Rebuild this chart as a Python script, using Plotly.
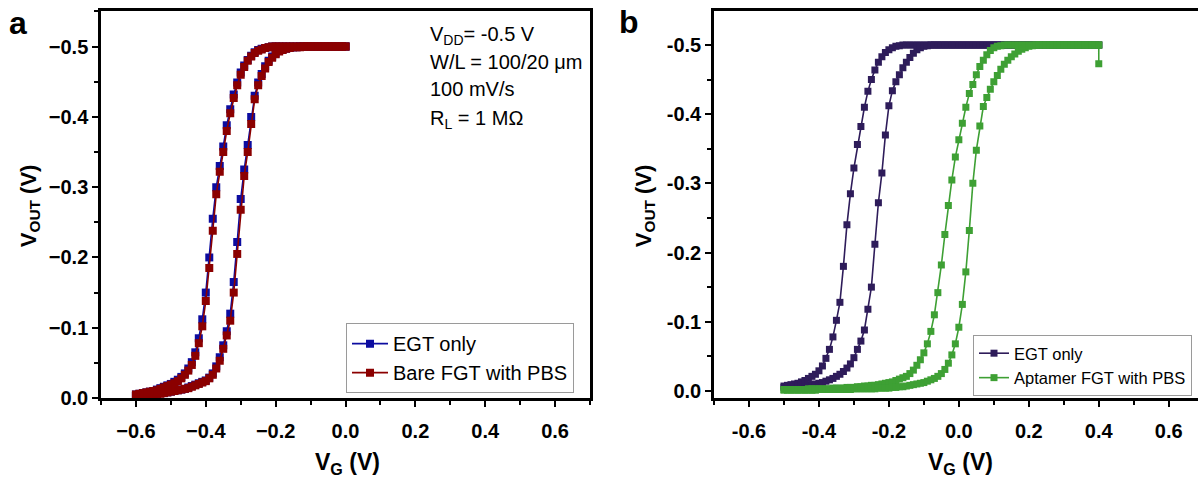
import plotly.graph_objects as go

FONT = "Liberation Sans, Arial, sans-serif"
W, H = 1198, 482

# ---------------- gate-voltage sweep grids (V) ----------------
VG_A = [-0.60, -0.59, -0.58, -0.57, -0.56, -0.55, -0.54, -0.53, -0.52, -0.51,
        -0.50, -0.49, -0.48, -0.47, -0.46, -0.45, -0.44, -0.43, -0.42, -0.41,
        -0.40, -0.39, -0.38, -0.37, -0.36, -0.35, -0.34, -0.33, -0.32, -0.31,
        -0.30, -0.29, -0.28, -0.27, -0.26, -0.25, -0.24, -0.23, -0.22, -0.21,
        -0.20, -0.19, -0.18, -0.17, -0.16, -0.15, -0.14, -0.13, -0.12, -0.11,
        -0.10, -0.09, -0.08, -0.07, -0.06, -0.05, -0.04, -0.03, -0.02, -0.01,
        0.00]

VG_B = [-0.50, -0.49, -0.48, -0.47, -0.46, -0.45, -0.44, -0.43, -0.42, -0.41,
        -0.40, -0.39, -0.38, -0.37, -0.36, -0.35, -0.34, -0.33, -0.32, -0.31,
        -0.30, -0.29, -0.28, -0.27, -0.26, -0.25, -0.24, -0.23, -0.22, -0.21,
        -0.20, -0.19, -0.18, -0.17, -0.16, -0.15, -0.14, -0.13, -0.12, -0.11,
        -0.10, -0.09, -0.08, -0.07, -0.06, -0.05, -0.04, -0.03, -0.02, -0.01,
        0.00, 0.01, 0.02, 0.03, 0.04, 0.05, 0.06, 0.07, 0.08, 0.09,
        0.10, 0.11, 0.12, 0.13, 0.14, 0.15, 0.16, 0.17, 0.18, 0.19,
        0.20, 0.21, 0.22, 0.23, 0.24, 0.25, 0.26, 0.27, 0.28, 0.29,
        0.30, 0.31, 0.32, 0.33, 0.34, 0.35, 0.36, 0.37, 0.38, 0.39,
        0.40]

# ---------------- panel a: V_OUT (V), both sweep directions on VG_A ----------------
EGT_A_UP = [-0.003, -0.003, -0.004, -0.004, -0.005, -0.005, -0.006, -0.007, -0.007, -0.008,
            -0.009, -0.010, -0.011, -0.012, -0.013, -0.015, -0.017, -0.019, -0.021, -0.023,
            -0.025, -0.029, -0.035, -0.045, -0.058, -0.075, -0.095, -0.120, -0.165, -0.222,
            -0.283, -0.325, -0.360, -0.400, -0.430, -0.449, -0.461, -0.472, -0.480, -0.486,
            -0.490, -0.494, -0.496, -0.497, -0.498, -0.499, -0.499, -0.500, -0.500, -0.500,
            -0.500, -0.500, -0.500, -0.500, -0.500, -0.500, -0.500, -0.500, -0.500, -0.500,
            -0.500]
EGT_A_DOWN = [-0.005, -0.006, -0.007, -0.008, -0.009, -0.010, -0.012, -0.014, -0.016, -0.018,
              -0.020, -0.023, -0.026, -0.030, -0.035, -0.042, -0.051, -0.065, -0.085, -0.112,
              -0.150, -0.200, -0.255, -0.300, -0.330, -0.358, -0.388, -0.411, -0.432, -0.449,
              -0.463, -0.473, -0.481, -0.487, -0.492, -0.495, -0.497, -0.498, -0.499, -0.500,
              -0.500, -0.500, -0.500, -0.500, -0.500, -0.500, -0.500, -0.500, -0.500, -0.500,
              -0.500, -0.500, -0.500, -0.500, -0.500, -0.500, -0.500, -0.500, -0.500, -0.500,
              -0.500]
BARE_A_UP = [-0.003, -0.003, -0.004, -0.004, -0.005, -0.005, -0.006, -0.006, -0.007, -0.008,
             -0.009, -0.010, -0.011, -0.012, -0.013, -0.014, -0.016, -0.018, -0.020, -0.022,
             -0.024, -0.028, -0.033, -0.042, -0.053, -0.070, -0.089, -0.110, -0.150, -0.205,
             -0.268, -0.316, -0.350, -0.390, -0.425, -0.445, -0.458, -0.469, -0.478, -0.484,
             -0.489, -0.493, -0.495, -0.497, -0.498, -0.499, -0.499, -0.499, -0.500, -0.500,
             -0.500, -0.500, -0.500, -0.500, -0.500, -0.500, -0.500, -0.500, -0.500, -0.500,
             -0.500]
BARE_A_DOWN = [-0.005, -0.006, -0.007, -0.008, -0.009, -0.010, -0.011, -0.013, -0.015, -0.017,
               -0.019, -0.021, -0.024, -0.028, -0.033, -0.039, -0.047, -0.060, -0.078, -0.102,
               -0.138, -0.185, -0.238, -0.290, -0.322, -0.350, -0.380, -0.405, -0.427, -0.445,
               -0.460, -0.471, -0.480, -0.486, -0.491, -0.494, -0.496, -0.498, -0.499, -0.500,
               -0.500, -0.500, -0.500, -0.500, -0.500, -0.500, -0.500, -0.500, -0.500, -0.500,
               -0.500, -0.500, -0.500, -0.500, -0.500, -0.500, -0.500, -0.500, -0.500, -0.500,
               -0.500]

# ---------------- panel b: V_OUT (V), both sweep directions on VG_B ----------------
EGT_B_UP = [-0.005, -0.005, -0.005, -0.006, -0.006, -0.007, -0.007, -0.008, -0.009, -0.010,
            -0.011, -0.012, -0.014, -0.016, -0.018, -0.021, -0.024, -0.028, -0.033, -0.039,
            -0.048, -0.060, -0.072, -0.088, -0.118, -0.150, -0.212, -0.272, -0.315, -0.370,
            -0.412, -0.434, -0.447, -0.457, -0.467, -0.475, -0.482, -0.488, -0.493, -0.496,
            -0.498, -0.499, -0.500, -0.500, -0.500, -0.500, -0.500, -0.500, -0.500, -0.500,
            -0.500, -0.500, -0.500, -0.500, -0.500, -0.500, -0.500, -0.500, -0.500, -0.500,
            -0.500, -0.500, -0.500, -0.500, -0.500, -0.500, -0.500, -0.500, -0.500, -0.500,
            -0.500, -0.500, -0.500, -0.500, -0.500, -0.500, -0.500, -0.500, -0.500, -0.500,
            -0.500, -0.500, -0.500, -0.500, -0.500, -0.500, -0.500, -0.500, -0.500, -0.500,
            -0.500]
EGT_B_DOWN = [-0.007, -0.008, -0.009, -0.010, -0.011, -0.013, -0.015, -0.018, -0.021, -0.024,
              -0.029, -0.036, -0.047, -0.060, -0.078, -0.102, -0.128, -0.180, -0.240, -0.285,
              -0.322, -0.356, -0.382, -0.410, -0.433, -0.450, -0.464, -0.475, -0.483, -0.489,
              -0.493, -0.496, -0.498, -0.499, -0.500, -0.500, -0.500, -0.500, -0.500, -0.500,
              -0.500, -0.500, -0.500, -0.500, -0.500, -0.500, -0.500, -0.500, -0.500, -0.500,
              -0.500, -0.500, -0.500, -0.500, -0.500, -0.500, -0.500, -0.500, -0.500, -0.500,
              -0.500, -0.500, -0.500, -0.500, -0.500, -0.500, -0.500, -0.500, -0.500, -0.500,
              -0.500, -0.500, -0.500, -0.500, -0.500, -0.500, -0.500, -0.500, -0.500, -0.500,
              -0.500, -0.500, -0.500, -0.500, -0.500, -0.500, -0.500, -0.500, -0.500, -0.500,
              -0.500]
APT_B_UP = [-0.001, -0.001, -0.001, -0.001, -0.001, -0.001, -0.001, -0.001, -0.001, -0.001,
            -0.002, -0.002, -0.002, -0.002, -0.002, -0.002, -0.002, -0.002, -0.002, -0.002,
            -0.003, -0.003, -0.003, -0.003, -0.003, -0.003, -0.003, -0.004, -0.004, -0.004,
            -0.004, -0.005, -0.005, -0.006, -0.006, -0.007, -0.008, -0.009, -0.010, -0.011,
            -0.012, -0.014, -0.016, -0.018, -0.021, -0.025, -0.031, -0.040, -0.052, -0.068,
            -0.092, -0.125, -0.172, -0.232, -0.300, -0.348, -0.383, -0.411, -0.424, -0.436,
            -0.447, -0.456, -0.465, -0.472, -0.478, -0.483, -0.487, -0.491, -0.494, -0.496,
            -0.498, -0.499, -0.500, -0.500, -0.500, -0.500, -0.500, -0.500, -0.500, -0.500,
            -0.500, -0.500, -0.500, -0.500, -0.500, -0.500, -0.500, -0.500, -0.500, -0.500,
            -0.500]
APT_B_DOWN = [-0.002, -0.002, -0.002, -0.002, -0.002, -0.002, -0.002, -0.003, -0.003, -0.003,
              -0.003, -0.003, -0.003, -0.003, -0.004, -0.004, -0.004, -0.004, -0.005, -0.005,
              -0.005, -0.006, -0.006, -0.007, -0.007, -0.008, -0.008, -0.009, -0.010, -0.011,
              -0.012, -0.013, -0.015, -0.017, -0.019, -0.021, -0.025, -0.030, -0.037, -0.045,
              -0.055, -0.068, -0.086, -0.110, -0.142, -0.182, -0.226, -0.268, -0.305, -0.338,
              -0.363, -0.387, -0.410, -0.430, -0.443, -0.457, -0.469, -0.478, -0.486, -0.492,
              -0.496, -0.498, -0.499, -0.500, -0.500, -0.500, -0.500, -0.500, -0.500, -0.500,
              -0.500, -0.500, -0.500, -0.500, -0.500, -0.500, -0.500, -0.500, -0.500, -0.500,
              -0.500, -0.500, -0.500, -0.500, -0.500, -0.500, -0.500, -0.500, -0.500, -0.500,
              -0.500]
# first recorded point of the aptamer sweep
APT_B_START_VG = [0.40]
APT_B_START_VOUT = [-0.473]

# ---------------- ticks ----------------
X_TICKS = [-0.6, -0.4, -0.2, 0.0, 0.2, 0.4, 0.6]
X_TEXT_A = ["\u22120.6", "\u22120.4", "\u22120.2", "0.0", "0.2", "0.4", "0.6"]
X_TEXT_B = ["-0.6", "-0.4", "-0.2", "0.0", "0.2", "0.4", "0.6"]
X_MINOR = [-0.7, -0.5, -0.3, -0.1, 0.1, 0.3, 0.5, 0.7]
Y_TICKS = [0.0, -0.1, -0.2, -0.3, -0.4, -0.5]
Y_TEXT_A = ["0.0", "\u22120.1", "\u22120.2", "\u22120.3", "\u22120.4", "\u22120.5"]
Y_TEXT_B = ["0.0", "-0.1", "-0.2", "-0.3", "-0.4", "-0.5"]
Y_MINOR = [-0.05, -0.15, -0.25, -0.35, -0.45, -0.55]

C_BLUE = "#0c0ca0"
C_RED = "#8b0000"
C_PURPLE = "#2e1c5a"
C_GREEN = "#3ea034"


def sweep_loop(vg, up, down):
    """Forward sweep followed by the return sweep."""
    return list(vg) + list(vg[::-1]), list(up) + list(down[::-1])


fig = go.Figure()


def add_curve(x, y, name, color, xa, ya, legend, size):
    fig.add_trace(go.Scatter(
        x=x, y=y, name=name, mode="lines+markers",
        line=dict(color=color, width=1.6),
        marker=dict(symbol="square", size=size, color=color, line=dict(width=0)),
        xaxis=xa, yaxis=ya, legend=legend,
    ))


x, y = sweep_loop(VG_A, EGT_A_UP, EGT_A_DOWN)
add_curve(x, y, "EGT only", C_BLUE, "x", "y", "legend", 8)
x, y = sweep_loop(VG_A, BARE_A_UP, BARE_A_DOWN)
add_curve(x, y, "Bare FGT with PBS", C_RED, "x", "y", "legend", 8)

x, y = sweep_loop(VG_B, EGT_B_UP, EGT_B_DOWN)
add_curve(x, y, "EGT only", C_PURPLE, "x2", "y2", "legend2", 7)
x = APT_B_START_VG + VG_B[::-1] + VG_B
y = APT_B_START_VOUT + APT_B_DOWN[::-1] + APT_B_UP
add_curve(x, y, "Aptamer FGT with PBS", C_GREEN, "x2", "y2", "legend2", 7)


def px_x(p):
    return p / W


def px_y(p):
    return 1 - p / H


def axis(domain, rng, anchor, tickvals, ticktext, minor, mirror=True, standoff=0):
    return dict(
        domain=domain, range=rng, anchor=anchor,
        showline=True, linecolor="black", linewidth=2.5, mirror=mirror,
        ticks="outside", ticklen=6, tickwidth=2, tickcolor="black",
        tickmode="array", tickvals=tickvals, ticktext=ticktext,
        ticklabelstandoff=standoff,
        tickfont=dict(family=FONT, size=20, color="black", weight="bold"),
        minor=dict(tickmode="array", tickvals=minor, ticks="outside", ticklen=4,
                   tickwidth=2, tickcolor="black", showgrid=False),
        showgrid=False, zeroline=False, fixedrange=True,
    )


fig.update_layout(
    width=W, height=H, margin=dict(l=0, r=0, t=0, b=0),
    paper_bgcolor="white", plot_bgcolor="white",
    font=dict(family=FONT, color="black"),
    xaxis=axis([px_x(101), px_x(590)], [-0.7, 0.7], "y", X_TICKS, X_TEXT_A, X_MINOR,
               standoff=7),
    yaxis=axis([px_y(407.3), px_y(11)], [0.0, -0.551], "x", Y_TICKS, Y_TEXT_A, Y_MINOR),
    xaxis2=axis([px_x(714), 1.0], [-0.7, 0.6837], "y2", X_TICKS, X_TEXT_B, X_MINOR,
                standoff=7),
    yaxis2=axis([px_y(407.3), px_y(11.7)], [0.0103, -0.5485], "x2", Y_TICKS, Y_TEXT_B,
                Y_MINOR, mirror=False),
    legend=dict(x=px_x(346), y=px_y(366.5), xanchor="left", yanchor="middle",
                bgcolor="white", bordercolor="#9a9a9a", borderwidth=1,
                font=dict(family=FONT, size=20, color="black"),
                itemwidth=36, tracegroupgap=0, itemclick=False),
    legend2=dict(x=px_x(973), y=px_y(374), xanchor="left", yanchor="middle",
                 bgcolor="white", bordercolor="#9a9a9a", borderwidth=1,
                 font=dict(family=FONT, size=16.5, color="black"),
                 tracegroupgap=0, itemclick=False),
    showlegend=True,
)

annotations = [
    # panel letters
    dict(text="<b>a</b>", x=px_x(18), y=px_y(24), font=dict(size=32)),
    dict(text="<b>b</b>", x=px_x(629), y=px_y(23), font=dict(size=32)),
    # axis titles
    dict(text="<b>V<sub>G</sub> (V)</b>", x=px_x(347), y=px_y(474), font=dict(size=23)),
    dict(text="<b>V<sub>G</sub> (V)</b>", x=px_x(960), y=px_y(474), font=dict(size=23)),
    dict(text="<b>V<sub>OUT</sub> (V)</b>", x=px_x(30), y=px_y(211), textangle=-90,
         font=dict(size=22)),
    dict(text="<b>V<sub>OUT</sub> (V)</b>", x=px_x(645), y=px_y(211), textangle=-90,
         font=dict(size=22)),
]
# measurement conditions in panel a
cond = ["V<sub>DD</sub>= -0.5 V", "W/L = 100/20 \u03bcm", "100 mV/s", "R<sub>L</sub> = 1 M\u03a9"]
cond_y = [36, 63, 91, 122]
for t, yy in zip(cond, cond_y):
    annotations.append(dict(text=t, x=px_x(428), y=px_y(yy), xanchor="left",
                            font=dict(size=20)))

for a in annotations:
    a.setdefault("xanchor", "center")
    a.update(xref="paper", yref="paper", yanchor="middle", showarrow=False)
    a["font"] = dict(family=FONT, color="black", **a["font"])
fig.update_layout(annotations=annotations)

fig.write_html("out.html")
